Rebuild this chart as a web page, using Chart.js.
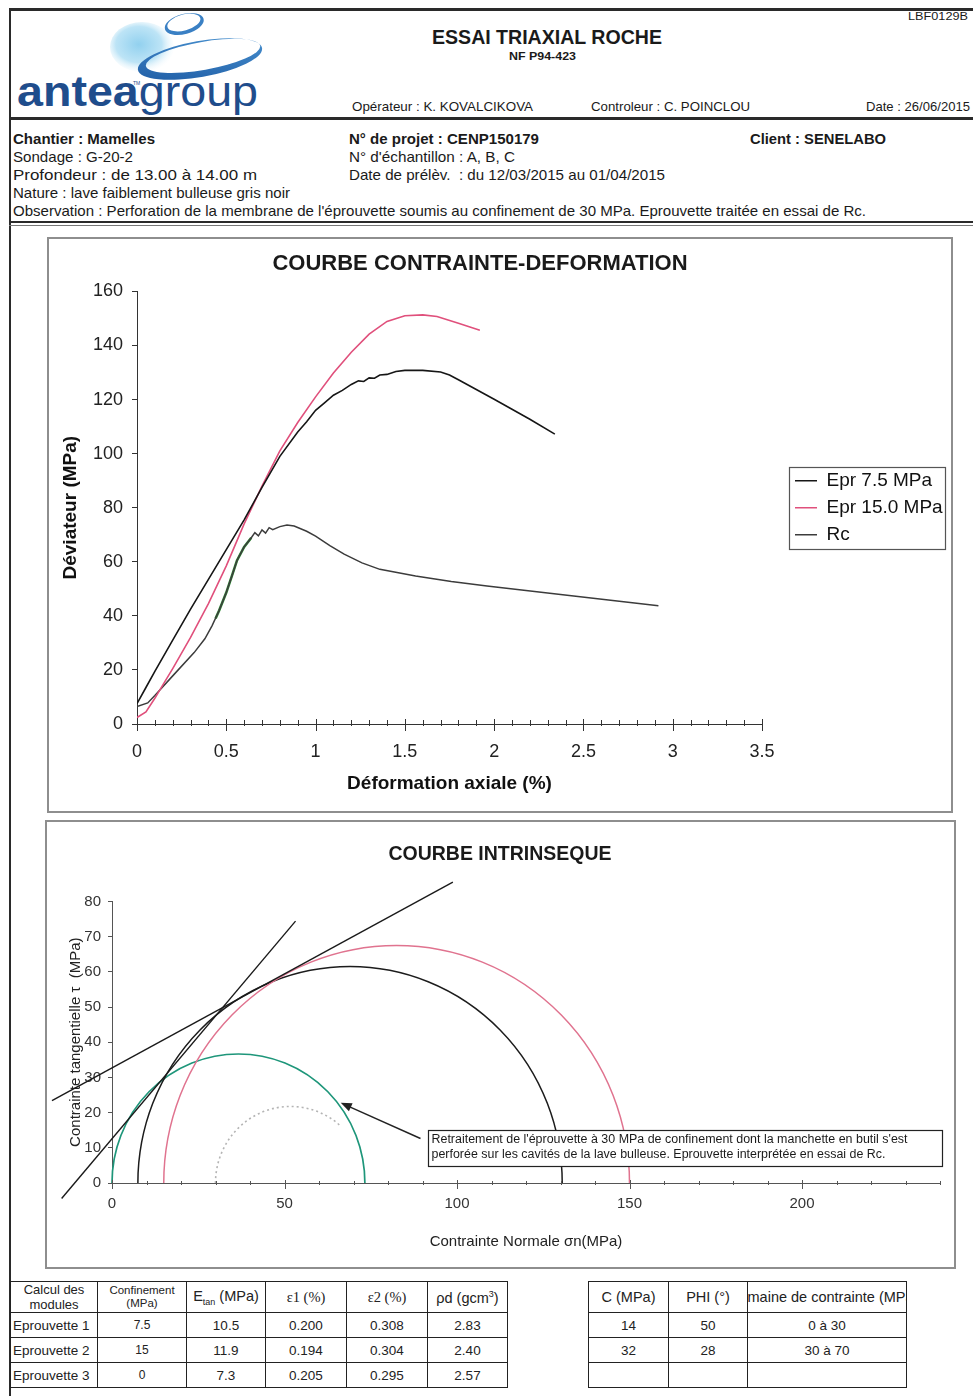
<!DOCTYPE html>
<html><head><meta charset="utf-8">
<script src="https://cdn.jsdelivr.net/npm/chart.js"></script>
<style>
html,body{margin:0;padding:0;background:#fff}
body{width:973px;height:1396px;position:relative;overflow:hidden;font-family:"Liberation Sans",Arial,sans-serif;color:#1a1a1a}
.t{position:absolute;white-space:nowrap;transform-origin:0 50%;line-height:1}
.b{font-weight:bold}
.ln{position:absolute;background:#2a2a2a}
.box{position:absolute;border:2px solid #8e8e8e;box-sizing:border-box}
canvas{position:absolute}
table{position:absolute;border-collapse:collapse;table-layout:fixed;font-family:"Liberation Sans",Arial,sans-serif}
td{border:1.6px solid #222;text-align:center;padding:0;color:#222;overflow:hidden;white-space:nowrap}
.tl td{font-size:13.5px}
</style></head>
<body>
<!-- frame lines -->
<div class="ln" style="left:9px;top:8px;width:964px;height:3px"></div>
<div class="ln" style="left:9px;top:8px;width:2px;height:1388px"></div>
<div class="ln" style="left:9px;top:117px;width:964px;height:3px"></div>
<div class="ln" style="left:9px;top:221px;width:964px;height:2px"></div>
<div class="ln" style="left:9px;top:225px;width:964px;height:1px;background:#777"></div>

<!-- logo -->
<svg style="position:absolute;left:0;top:0" width="280" height="120" viewBox="0 0 280 120">
  <defs>
    <radialGradient id="blob" cx="0.45" cy="0.45" r="0.6">
      <stop offset="0" stop-color="#92d1ef"/><stop offset="0.6" stop-color="#bde4f6"/><stop offset="1" stop-color="#ffffff" stop-opacity="0"/>
    </radialGradient>
    <linearGradient id="ring" x1="0" y1="1" x2="1" y2="0">
      <stop offset="0" stop-color="#1d5aa3"/><stop offset="1" stop-color="#4b95d3"/>
    </linearGradient>
  </defs>
  <ellipse cx="142" cy="47" rx="32" ry="25" fill="url(#blob)"/>
  <path fill="url(#ring)" fill-rule="evenodd" transform="rotate(-10 200 59)"
    d="M137,59 a63,18 0 1,0 126,0 a63,18 0 1,0 -126,0 Z M145.5,56.5 a58,14 0 1,0 116,0 a58,14 0 1,0 -116,0 Z"/>
  <path fill="#3a80c4" fill-rule="evenodd" transform="rotate(-15 184 23)"
    d="M164,24 a20,10 0 1,0 40,0 a20,10 0 1,0 -40,0 Z M167,22.5 a17,8 0 1,0 34,0 a17,8 0 1,0 -34,0 Z"/>
  <text x="17" y="106" font-family="Liberation Sans, Arial, sans-serif" font-size="43" fill="#1f4d8c" textLength="241" lengthAdjust="spacingAndGlyphs"><tspan font-weight="bold">antea</tspan><tspan>group</tspan></text>
  <text x="133" y="85" font-family="Liberation Sans, Arial" font-size="5" fill="#1f4d8c">TM</text>
</svg>

<!-- header texts -->
<div class="t" data-w="60" style="left:908px;top:11px;font-size:11px">LBF0129B</div>
<div class="t b" data-w="230" style="left:432px;top:26px;font-size:21px">ESSAI TRIAXIAL ROCHE</div>
<div class="t b" data-w="67" style="left:509px;top:51px;font-size:11px">NF P94-423</div>
<div class="t" data-w="181" style="left:352px;top:100px;font-size:13px">Opérateur : K. KOVALCIKOVA</div>
<div class="t" data-w="159" style="left:591px;top:100px;font-size:13px">Controleur : C. POINCLOU</div>
<div class="t" data-w="104" style="left:866px;top:100px;font-size:13px">Date : 26/06/2015</div>

<!-- info block -->
<div class="t b" data-w="142" style="left:13px;top:131px;font-size:15px">Chantier : Mamelles</div>
<div class="t" data-w="120" style="left:13px;top:149px;font-size:15px">Sondage : G-20-2</div>
<div class="t" data-w="244" style="left:13px;top:167px;font-size:15px">Profondeur : de 13.00 à 14.00 m</div>
<div class="t" data-w="277" style="left:13px;top:185px;font-size:15px">Nature : lave faiblement bulleuse gris noir</div>
<div class="t" data-w="853" style="left:13px;top:203px;font-size:15px">Observation : Perforation de la membrane de l'éprouvette soumis au confinement de 30 MPa. Eprouvette traitée en essai de Rc.</div>
<div class="t b" data-w="190" style="left:349px;top:131px;font-size:15px">N° de projet : CENP150179</div>
<div class="t" data-w="166" style="left:349px;top:149px;font-size:15px">N° d'échantillon : A, B, C</div>
<div class="t" data-w="316" style="left:349px;top:167px;font-size:15px">Date de prélèv.&nbsp; : du 12/03/2015 au 01/04/2015</div>
<div class="t b" data-w="136" style="left:750px;top:131px;font-size:15px">Client : SENELABO</div>

<!-- chart boxes -->
<div class="box" style="left:47px;top:237px;width:906px;height:576px"></div>
<canvas id="c1" width="903" height="573" style="left:48px;top:238px"></canvas>
<div class="box" style="left:45px;top:820px;width:911px;height:449px"></div>
<canvas id="c2" width="908" height="446" style="left:46px;top:821px"></canvas>

<!-- tables -->
<table class="tl" style="left:10px;top:1281px;width:497px">
  <colgroup><col style="width:87px"><col style="width:89px"><col style="width:79px"><col style="width:81px"><col style="width:81px"><col style="width:80px"></colgroup>
  <tr style="height:31px">
    <td style="font-size:13px;line-height:15px">Calcul des<br>modules</td>
    <td style="font-size:11.5px;line-height:13px">Confinement<br>(MPa)</td>
    <td style="font-size:14.5px">E<sub style="font-size:9px">tan</sub> (MPa)</td>
    <td style="font-size:14.5px;font-family:'Liberation Serif',serif">ε1 (%)</td>
    <td style="font-size:14.5px;font-family:'Liberation Serif',serif">ε2 (%)</td>
    <td style="font-size:14.5px">ρd (gcm<sup style="font-size:9px">3</sup>)</td>
  </tr>
  <tr style="height:25px"><td style="text-align:left;padding-left:2px">Eprouvette 1</td><td style="font-size:12px">7.5</td><td>10.5</td><td>0.200</td><td>0.308</td><td>2.83</td></tr>
  <tr style="height:25px"><td style="text-align:left;padding-left:2px">Eprouvette 2</td><td style="font-size:12px">15</td><td>11.9</td><td>0.194</td><td>0.304</td><td>2.40</td></tr>
  <tr style="height:25px"><td style="text-align:left;padding-left:2px">Eprouvette 3</td><td style="font-size:12px">0</td><td>7.3</td><td>0.205</td><td>0.295</td><td>2.57</td></tr>
</table>
<table class="tl" style="left:588px;top:1281px;width:318px">
  <colgroup><col style="width:80px"><col style="width:79px"><col style="width:159px"></colgroup>
  <tr style="height:31px"><td style="font-size:14.5px">C (MPa)</td><td style="font-size:14.5px">PHI (°)</td><td style="font-size:14.5px;text-overflow:clip"><div style="width:220px;margin-left:-19px;text-align:left">Domaine de contrainte (MPa)</div></td></tr>
  <tr style="height:25px"><td>14</td><td>50</td><td>0 à 30</td></tr>
  <tr style="height:25px"><td>32</td><td>28</td><td>30 à 70</td></tr>
  <tr style="height:25px"><td></td><td></td><td></td></tr>
</table>

<script>
// ---------- DATA : courbe contrainte-déformation ----------
const strainEpr75 = [0, 0.05, 0.1, 0.2, 0.3, 0.4, 0.5, 0.6, 0.7, 0.8, 0.9, 0.95, 1.0, 1.05, 1.1, 1.15, 1.2, 1.24, 1.27, 1.3, 1.33, 1.36, 1.4, 1.45, 1.5, 1.6, 1.7, 1.75, 1.8, 1.9, 2.0, 2.1, 2.2, 2.34];
const devEpr75    = [7.5, 13.5, 19.5, 31, 42.5, 53.5, 64.5, 75.5, 87.5, 99, 108, 111.8, 116, 118.8, 121.6, 123.4, 125.6, 126.9, 126.7, 128, 127.9, 129.1, 129.3, 130.4, 130.8, 130.8, 130.2, 129.1, 127.3, 123.7, 120.1, 116.4, 112.7, 107.2];

const strainEpr15 = [0, 0.05, 0.1, 0.15, 0.2, 0.3, 0.4, 0.5, 0.6, 0.7, 0.8, 0.9, 1.0, 1.1, 1.2, 1.3, 1.4, 1.5, 1.6, 1.68, 1.8, 1.92];
const devEpr15    = [2.4, 4.5, 9.5, 15, 20.5, 32, 44.5, 58.5, 74, 88, 101, 111.5, 121, 129.8, 137.5, 144.2, 148.9, 151, 151.3, 150.7, 148.2, 145.6];

const strainRc = [0, 0.06, 0.1, 0.2, 0.32, 0.38, 0.42, 0.46, 0.5, 0.53, 0.56, 0.6, 0.64, 0.66, 0.68, 0.7, 0.72, 0.74, 0.76, 0.8, 0.84, 0.88, 0.95, 1.0, 1.08, 1.16, 1.26, 1.36, 1.56, 1.76, 1.96, 2.36, 2.92];
const devRc    = [6.5, 7.8, 10.5, 17.8, 26.4, 31.5, 36.3, 42, 48.6, 54.5, 60.5, 65.5, 68.9, 70.8, 69.6, 71.8, 70.6, 72.6, 71.9, 73, 73.6, 73.2, 71.3, 69.5, 66, 62.8, 59.6, 57.2, 54.7, 52.7, 51, 48, 43.7];

// portion used for the modulus (green overlay on Rc)
const strainRcFit = [0.44, 0.46, 0.5, 0.53, 0.56, 0.6, 0.64];
const devRcFit    = [39, 42, 48.6, 54.5, 60.5, 65.5, 68.9];

const seriesLabels = ['Epr 7.5 MPa', 'Epr 15.0 MPa', 'Rc'];

// ---------- DATA : courbe intrinsèque ----------
const circleSigma3 = [0, 7.5, 15, 30];        // MPa
const circleSigma1 = [73.3, 130.5, 150, 73.5]; // MPa
const envelope1Sigma = [-14.6, 53.2];  const envelope1Tau = [-4.4, 74.4];  // C=14, PHI=50
const envelope2Sigma = [-17.4, 98.8];  const envelope2Tau = [23.4, 85.5];  // C=32, PHI=28
const arrowTip = {sigma: 66.3, tau: 22.8};
const noteLines = ["Retraitement de l'éprouvette à 30 MPa de confinement dont la manchette en butil s'est",
                   "perforée sur les cavités de la lave bulleuse. Eprouvette interprétée en essai de Rc."];

// ---------- helpers ----------
const pts = (xs, ys) => xs.map((x, i) => ({x, y: ys[i]}));
const FONT = '"Liberation Sans", Arial, sans-serif';
Chart.defaults.font.family = FONT;
Chart.defaults.color = '#222';

document.querySelectorAll('.t[data-w]').forEach(el => {
  const w = +el.dataset.w, ow = el.getBoundingClientRect().width;
  if (ow > 0) el.style.transform = 'scaleX(' + (w / ow) + ')';
});

const crossTicks = {
  id: 'crossTicks',
  afterDatasetsDraw(chart, args, o) {
    if (!o || !o.every) return;
    const xs = chart.scales.x, y0 = chart.chartArea.bottom, ctx = chart.ctx;
    ctx.save(); ctx.strokeStyle = o.color || '#333'; ctx.lineWidth = 1;
    ctx.beginPath();
    xs.ticks.forEach(t => {
      const q = t.value / o.every;
      const m = Math.abs(q - Math.round(q)) < 1e-6;
      const px = Math.round(xs.getPixelForValue(t.value)) + 0.5;
      ctx.moveTo(px, y0 - (m ? o.majorUp : o.minorUp));
      ctx.lineTo(px, y0 + (m ? o.majorDown : o.minorDown));
    });
    ctx.stroke(); ctx.restore();
  }
};

const legendPlace = {
  id: 'legendPlace',
  afterLayout(chart, args, o) {
    const L = chart.legend; if (!L || o.left == null) return;
    const dx = o.left - L.left; L.left += dx; L.right = L.left + o.clipW; L.width = o.clipW;
  },
  afterDraw(chart, args, o) {
    const L = chart.legend; if (!L || !L.legendHitBoxes || !L.legendHitBoxes.length) return;
    const hb = L.legendHitBoxes, ctx = chart.ctx, last = hb[hb.length - 1];
    ctx.save(); ctx.strokeStyle = '#555'; ctx.lineWidth = 1.2;
    ctx.strokeRect(Math.round(hb[0].left - 6) + 0.5, Math.round(hb[0].top - 4) + 0.5, o.boxW, Math.round(last.top + last.height - hb[0].top + 9));
    ctx.restore();
  }
};

// ---------- chart 1 ----------
const lineDs = (label, xs, ys, color, w) => ({label, data: pts(xs, ys), showLine: true, borderColor: color, backgroundColor: color, borderWidth: w, pointRadius: 0, tension: 0, fill: false});
new Chart(document.getElementById('c1'), {
  type: 'scatter',
  data: {datasets: [
    lineDs(seriesLabels[0], strainEpr75, devEpr75, '#161616', 1.6),
    lineDs(seriesLabels[1], strainEpr15, devEpr15, '#e0507c', 1.6),
    lineDs(seriesLabels[2], strainRc, devRc, '#3c3c3c', 1.5),
    lineDs('Rc (module)', strainRcFit, devRcFit, '#2f8a36', 2.6)
  ]},
  options: {
    responsive: false, animation: false, events: [],
    layout: {padding: {left: 0, right: 39, top: 0, bottom: 0}},
    plugins: {
      title: {display: true, text: 'COURBE CONTRAINTE-DEFORMATION', color: '#1a1a1a', font: {size: 22, weight: 'bold'}, padding: {top: 13, bottom: 14}},
      legend: {position: 'right', fullSize: false, maxWidth: 150,
        labels: {filter: it => it.datasetIndex < 3, boxWidth: 22, boxHeight: 0, padding: 8, color: '#111', font: {size: 19}}},
      tooltip: {enabled: false},
      legendPlace: {left: 739, boxW: 156, clipW: 160},
      crossTicks: {every: 0.5, minorUp: 4, minorDown: 2, majorUp: 5, majorDown: 7, color: '#333'}
    },
    scales: {
      x: {type: 'linear', min: 0, max: 3.5,
        ticks: {stepSize: 0.1, autoSkip: false, maxRotation: 0, padding: 17, color: '#222', font: {size: 18},
          callback: v => { const q = v * 2; return Math.abs(q - Math.round(q)) < 1e-6 ? String(Math.round(v * 10) / 10) : ''; }},
        grid: {display: false, drawTicks: false},
        border: {display: true, color: '#333', width: 1},
        title: {display: true, text: 'Déformation axiale (%)', color: '#111', font: {size: 19, weight: 'bold'}, padding: {top: 0, bottom: 16}},
        afterFit: s => { s.height = 87; }},
      y: {min: 0, max: 160,
        ticks: {stepSize: 20, padding: 9, color: '#222', font: {size: 18}},
        grid: {drawOnChartArea: false, drawTicks: true, tickLength: 5, color: '#333'},
        border: {display: true, color: '#333', width: 1},
        title: {display: true, text: 'Déviateur (MPa)', color: '#111', font: {size: 19, weight: 'bold'}, padding: {top: 11, bottom: 0}},
        afterFit: s => { s.width = 89; }}
    }
  },
  plugins: [crossTicks, legendPlace]
});

// ---------- chart 2 ----------
const circleStyle = [
  {color: '#1e967a', width: 1.7, dash: [], endDeg: 0},
  {color: '#1c1c1c', width: 1.5, dash: [], endDeg: 0},
  {color: '#e0738f', width: 1.5, dash: [], endDeg: 0},
  {color: '#b4b4b4', width: 1.6, dash: [2, 3], endDeg: 48}
];
const mohr = {
  id: 'mohr',
  beforeDatasetsDraw(chart) {
    const xs = chart.scales.x, ys = chart.scales.y, ctx = chart.ctx;
    circleSigma3.forEach((s3, i) => {
      const s1 = circleSigma1[i], c = (s3 + s1) / 2, r = (s1 - s3) / 2, st = circleStyle[i];
      const cx = xs.getPixelForValue(c), cy = ys.getPixelForValue(0);
      const rx = xs.getPixelForValue(c + r) - cx, ry = cy - ys.getPixelForValue(r);
      ctx.save(); ctx.strokeStyle = st.color; ctx.lineWidth = st.width; ctx.setLineDash(st.dash);
      ctx.beginPath(); ctx.ellipse(cx, cy, rx, ry, 0, Math.PI, 2 * Math.PI - st.endDeg * Math.PI / 180); ctx.stroke();
      ctx.restore();
    });
  }
};
const note = {
  id: 'note',
  afterDatasetsDraw(chart) {
    const ca = chart.chartArea, ctx = chart.ctx, xs = chart.scales.x, ys = chart.scales.y;
    const bx = Math.round(ca.left + 316) + 0.5, by = Math.round(ca.bottom - 53) + 0.5, bw = 514, bh = 36;
    const tx = xs.getPixelForValue(arrowTip.sigma), ty = ys.getPixelForValue(arrowTip.tau);
    const sx = bx - 8, sy = by + 8;
    const ang = Math.atan2(ty - sy, tx - sx);
    ctx.save();
    ctx.strokeStyle = '#222'; ctx.fillStyle = '#222'; ctx.lineWidth = 1.4;
    ctx.beginPath(); ctx.moveTo(sx, sy); ctx.lineTo(tx - 8 * Math.cos(ang), ty - 8 * Math.sin(ang)); ctx.stroke();
    ctx.beginPath(); ctx.moveTo(tx, ty);
    ctx.lineTo(tx - 11 * Math.cos(ang) + 4.5 * Math.sin(ang), ty - 11 * Math.sin(ang) - 4.5 * Math.cos(ang));
    ctx.lineTo(tx - 11 * Math.cos(ang) - 4.5 * Math.sin(ang), ty - 11 * Math.sin(ang) + 4.5 * Math.cos(ang));
    ctx.closePath(); ctx.fill();
    ctx.fillStyle = '#fff'; ctx.fillRect(bx, by, bw, bh);
    ctx.strokeStyle = '#222'; ctx.lineWidth = 1.2; ctx.strokeRect(bx, by, bw, bh);
    ctx.fillStyle = '#1a1a1a'; ctx.font = '12.5px ' + FONT; ctx.textBaseline = 'middle';
    const targetW = [476, 454];
    noteLines.forEach((txt, i) => {
      const w = ctx.measureText(txt).width;
      ctx.save(); ctx.translate(bx + 3, by + 9 + i * 15); ctx.scale(targetW[i] / w, 1);
      ctx.fillText(txt, 0, 0); ctx.restore();
    });
    ctx.restore();
  }
};

new Chart(document.getElementById('c2'), {
  type: 'scatter',
  data: {datasets: [
    {label: 'Enveloppe 0 à 30 MPa', data: pts(envelope1Sigma, envelope1Tau), showLine: true, borderColor: '#1a1a1a', borderWidth: 1.4, pointRadius: 0, clip: false},
    {label: 'Enveloppe 30 à 70 MPa', data: pts(envelope2Sigma, envelope2Tau), showLine: true, borderColor: '#1a1a1a', borderWidth: 1.4, pointRadius: 0, clip: false}
  ]},
  options: {
    responsive: false, animation: false, events: [],
    layout: {padding: {left: 14, right: 14, top: 0, bottom: 0}},
    plugins: {
      legend: {display: false}, tooltip: {enabled: false},
      title: {display: true, text: 'COURBE INTRINSEQUE', color: '#1a1a1a', font: {size: 19.5, weight: 'bold'}, padding: {top: 22, bottom: 35}},
      crossTicks: {every: 50, minorUp: 2, minorDown: 2, majorUp: 3, majorDown: 6, color: '#555'}
    },
    scales: {
      x: {type: 'linear', min: 0, max: 240,
        ticks: {stepSize: 10, autoSkip: false, maxRotation: 0, padding: 12, color: '#333', font: {size: 15},
          callback: v => (Math.abs(v % 50) < 1e-6 ? String(v) : '')},
        grid: {display: false, drawTicks: false},
        border: {display: true, color: '#555', width: 1},
        title: {display: true, text: 'Contrainte Normale σn(MPa)', color: '#222', font: {size: 15}, padding: {top: 0, bottom: 16}},
        afterFit: s => { s.height = 84; }},
      y: {min: 0, max: 80,
        ticks: {stepSize: 10, padding: 7, color: '#333', font: {size: 15}},
        grid: {drawOnChartArea: false, drawTicks: true, tickLength: 4, color: '#555'},
        border: {display: true, color: '#555', width: 1},
        title: {display: true, text: 'Contrainte tangentielle τ  (MPa)', color: '#222', font: {size: 15}, padding: {top: 7, bottom: 0}},
        afterFit: s => { s.width = 52; }}
    }
  },
  plugins: [mohr, crossTicks, note]
});
</script>
</body></html>
